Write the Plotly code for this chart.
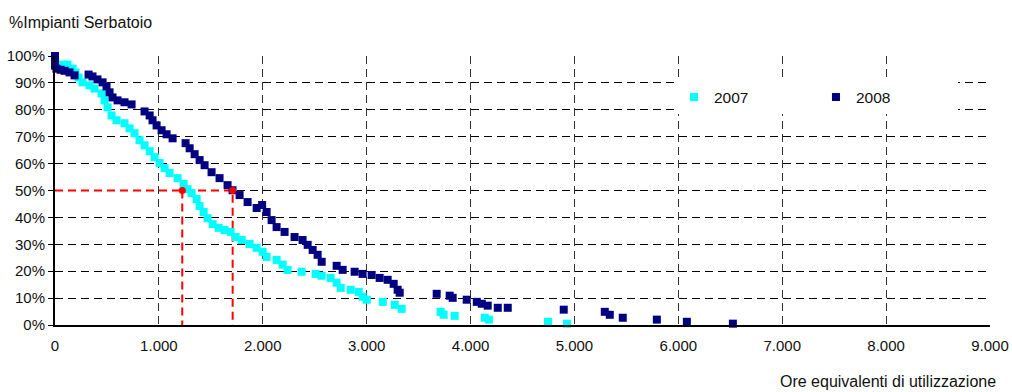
import plotly.graph_objects as go

# ---- data ----
hours_2007 = [0, 72, 120, 169, 197, 226, 265, 332, 380, 448, 477, 506, 544, 592, 669, 718, 766, 814,
              862, 911, 959, 1007, 1055, 1103, 1180, 1238, 1276, 1315, 1363, 1392, 1431, 1469, 1517,
              1575, 1632, 1690, 1739, 1797, 1873, 1941, 1999, 2037, 2133, 2191, 2239, 2374, 2509,
              2567, 2653, 2711, 2750, 2846, 2923, 2961, 3001, 3155, 3270, 3337, 3712, 3741, 3847,
              4137, 4176, 4745, 4928]
share_2007 = [100, 96.8, 96.8, 95.3, 93.9, 92.0, 90.2, 89.1, 87.9, 86.1, 83.5, 80.9, 77.9, 76.1, 75.0,
              73.1, 71.3, 68.7, 66.8, 64.6, 62.4, 60.2, 58.3, 56.5, 54.6, 52.4, 50.5, 49.0, 46.8, 44.2,
              42.0, 39.7, 37.5, 36.1, 35.3, 34.6, 32.7, 31.6, 30.1, 28.7, 27.2, 25.3, 24.2, 22.4, 20.5,
              19.8, 19.0, 18.3, 17.5, 15.7, 13.8, 13.1, 12.3, 10.5, 9.4, 8.6, 7.5, 6.0, 4.9, 3.8, 3.4,
              2.7, 2.0, 1.2, 0.5]

hours_2008 = [0, 0, 0, 14, 53, 92, 140, 188, 323, 361, 409, 458, 496, 525, 554, 602, 669, 737, 862,
              911, 939, 978, 1026, 1074, 1132, 1257, 1296, 1344, 1392, 1440, 1507, 1584, 1661, 1709,
              1777, 1854, 1941, 1994, 2037, 2085, 2133, 2210, 2306, 2383, 2432, 2480, 2528, 2567,
              2711, 2769, 2884, 2961, 3048, 3125, 3202, 3260, 3298, 3318, 3674, 3799, 3828, 3963,
              4060, 4108, 4165, 4262, 4358, 4897, 5292, 5340, 5465, 5793, 6082, 6525]
share_2008 = [100, 98.3, 96.4, 95.3, 94.9, 94.5, 93.9, 92.8, 93.1, 92.4, 91.3, 90.2, 88.7, 86.5, 84.6,
              83.5, 82.8, 82.0, 79.4, 77.9, 76.1, 74.2, 72.4, 70.9, 69.4, 67.6, 65.7, 63.5, 61.3, 59.4,
              56.8, 54.6, 52.0, 50.1, 48.3, 45.7, 43.5, 44.6, 42.0, 39.0, 36.4, 34.6, 32.7, 31.6, 29.8,
              27.9, 26.1, 23.5, 22.0, 20.5, 19.8, 19.0, 18.6, 17.5, 16.8, 15.3, 13.1, 12.0, 11.6, 10.9,
              10.1, 9.4, 8.6, 7.9, 7.2, 6.4, 6.4, 5.7, 4.9, 3.8, 2.7, 2.0, 1.2, 0.5]

median_hours = [1225, 1710]   # 2007, 2008
median_share = 50

x_ticks = [0, 1000, 2000, 3000, 4000, 5000, 6000, 7000, 8000, 9000]
x_tick_labels = ["0", "1.000", "2.000", "3.000", "4.000", "5.000", "6.000", "7.000", "8.000", "9.000"]
y_ticks = [0, 10, 20, 30, 40, 50, 60, 70, 80, 90, 100]
y_tick_labels = ["0%", "10%", "20%", "30%", "40%", "50%", "60%", "70%", "80%", "90%", "100%"]

FONT = "Liberation Sans, Arial, sans-serif"
TXT = "#111111"

fig = go.Figure()

# red median guide lines
fig.add_trace(go.Scatter(x=[0, median_hours[1], median_hours[1]], y=[median_share, median_share, 0],
                         mode="lines", line=dict(color="#FF0000", width=2, dash="8px,5px"),
                         showlegend=False, hoverinfo="skip", cliponaxis=False))
fig.add_trace(go.Scatter(x=[median_hours[0], median_hours[0]], y=[median_share, 0],
                         mode="lines", line=dict(color="#FF0000", width=2, dash="8px,5px"),
                         showlegend=False, hoverinfo="skip", cliponaxis=False))

fig.add_trace(go.Scatter(x=hours_2007, y=share_2007, mode="markers", name="2007",
                         marker=dict(symbol="square", size=8, color="#00FFFF"), cliponaxis=False))
fig.add_trace(go.Scatter(x=hours_2008, y=share_2008, mode="markers", name="2008",
                         marker=dict(symbol="square", size=8, color="#000080"), cliponaxis=False))

fig.add_trace(go.Scatter(x=median_hours, y=[median_share] * 2, mode="markers",
                         marker=dict(symbol="circle", size=7, color="#FF0000"),
                         showlegend=False, hoverinfo="skip", cliponaxis=False))

fig.update_layout(
    width=1012, height=392,
    margin=dict(l=55, r=22, t=56, b=67, autoexpand=False),
    paper_bgcolor="white", plot_bgcolor="white",
    font=dict(family=FONT, size=15, color=TXT),
    legend=dict(orientation="h", x=0.662, y=0.846, xanchor="left", yanchor="middle",
                bgcolor="white", font=dict(size=15.5, family=FONT, color=TXT),
                entrywidth=97, itemsizing="trace"),
    annotations=[
        dict(text="%Impianti Serbatoio", xref="paper", yref="paper", x=-0.051, y=1.124,
             xanchor="left", yanchor="middle", showarrow=False,
             font=dict(size=16, family=FONT, color=TXT)),
        dict(text="Ore equivalenti di utilizzazione", xref="paper", yref="paper", x=1.0086, y=-0.21,
             xanchor="right", yanchor="middle", showarrow=False,
             font=dict(size=16, family=FONT, color=TXT)),
    ],
)

fig.update_xaxes(range=[0, 9000], tickvals=x_ticks, ticktext=x_tick_labels, automargin=False,
                 showgrid=True, gridcolor="#333333", gridwidth=1, griddash="8px,5px",
                 showline=True, linecolor="black", linewidth=2, zeroline=False,
                 ticks="", ticklabelstandoff=6, tickfont=dict(size=15, family=FONT, color=TXT))
fig.update_yaxes(range=[0, 100], tickvals=y_ticks, ticktext=y_tick_labels, automargin=False,
                 showgrid=True, gridcolor="black", gridwidth=1, griddash="8px,5px",
                 showline=True, linecolor="black", linewidth=2, zeroline=False,
                 ticks="outside", ticklen=5, tickcolor="black",
                 tickfont=dict(size=15, family=FONT, color=TXT))

fig.write_html("out.html")
